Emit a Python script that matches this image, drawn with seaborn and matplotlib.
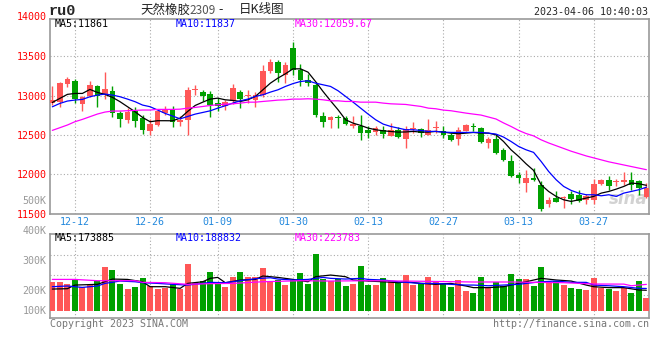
import matplotlib
matplotlib.use("Agg")
import matplotlib.pyplot as plt
import numpy as np
import seaborn as sns

# ru0 daily candles, 12-07 .. 04-06
opens = [12912, 12925, 13149, 13187, 12895, 13001, 13124, 13018, 13060, 12785,
         12691, 12806, 12713, 12552, 12628, 12776, 12825, 12665, 12695, 13072,
         13047, 13025, 12903, 12872, 12937, 13050, 12995, 12948, 13011, 13316,
         13428, 13266, 13610, 13330, 13206, 13138, 12744, 12698, 12728, 12715,
         12617, 12617, 12566, 12545, 12566, 12494, 12566, 12448, 12572, 12575,
         12503, 12585, 12555, 12505, 12444, 12557, 12618, 12588, 12395, 12452,
         12312, 12172, 11994, 11888, 11955, 11867, 11620, 11704, 11700, 11752,
         11740, 11676, 11676, 11880, 11930, 11908, 11903, 11930, 11920, 11718]
highs = [13128, 13179, 13238, 13213, 12997, 13192, 13137, 13302, 13124, 12806,
         12840, 12853, 12755, 12708, 12819, 12870, 12876, 12737, 13106, 13131,
         13076, 13064, 12970, 12951, 13153, 13068, 13068, 13050, 13390, 13466,
         13460, 13430, 13685, 13403, 13280, 13170, 12788, 12740, 12750, 12746,
         12744, 12756, 12620, 12612, 12612, 12655, 12598, 12616, 12665, 12587,
         12701, 12680, 12619, 12527, 12600, 12640, 12650, 12600, 12480, 12502,
         12342, 12245, 12035, 12055, 12078, 11918, 11708, 11795, 11722, 11795,
         11805, 11750, 11942, 11945, 11980, 11945, 12035, 12025, 11932, 11888]
lows = [12882, 12861, 13115, 12912, 12810, 12988, 12861, 12958, 12734, 12602,
        12657, 12598, 12513, 12501, 12615, 12751, 12608, 12610, 12504, 13013,
        12928, 12729, 12801, 12825, 12890, 12850, 12911, 12862, 12990, 13295,
        13181, 13168, 13265, 13120, 13128, 12730, 12598, 12587, 12595, 12625,
        12593, 12437, 12458, 12500, 12468, 12490, 12458, 12341, 12524, 12481,
        12500, 12523, 12462, 12420, 12380, 12555, 12558, 12398, 12340, 12262,
        12172, 11972, 11890, 11782, 11918, 11540, 11585, 11643, 11572, 11622,
        11655, 11620, 11627, 11868, 11805, 11856, 11868, 11800, 11741, 11700]
closes = [12946, 13166, 13213, 12958, 12988, 13137, 13001, 13086, 12776, 12708,
          12797, 12679, 12564, 12641, 12806, 12827, 12672, 12695, 13076, 13080,
          13000, 12886, 12874, 12922, 13100, 12962, 13002, 13011, 13316, 13432,
          13295, 13393, 13330, 13206, 13163, 12756, 12672, 12732, 12718, 12646,
          12646, 12532, 12532, 12587, 12515, 12566, 12481, 12575, 12577, 12524,
          12566, 12588, 12496, 12438, 12566, 12630, 12603, 12418, 12452, 12278,
          12185, 11983, 11960, 11960, 11935, 11565, 11676, 11655, 11718, 11688,
          11665, 11722, 11880, 11932, 11855, 11912, 11932, 11868, 11826, 11822]
volumes = [243800, 243800, 226700, 260700, 198300, 215300, 249300, 371200, 345700, 226700,
           184200, 201200, 277700, 206800, 184200, 195500, 229500, 187000, 396700, 238000,
           249300, 328700, 243700, 201200, 286200, 328700, 286200, 283300, 362700, 252200,
           260700, 218200, 260700, 320200, 226700, 481700, 269200, 255000, 266300, 209700,
           226700, 379700, 218200, 218200, 277700, 252200, 238000, 303200, 218200, 232300,
           286200, 240800, 232300, 201200, 257800, 167200, 150200, 286200, 195500, 240800,
           206800, 311700, 269200, 269200, 209700, 371200, 246500, 252200, 218200, 192700,
           184200, 175700, 277700, 195500, 187000, 167200, 189800, 150200, 252200, 110500]

# moving averages as drawn on the chart
ma5 = [12915, 12967, 13018, 13030, 13030, 13081, 13043, 13018, 12980, 12925,
       12861, 12797, 12725, 12670, 12683, 12683, 12682, 12716, 12801, 12877,
       12919, 12958, 12970, 12949, 12941, 12928, 12949, 12992, 13076, 13161,
       13225, 13280, 13343, 13343, 13301, 13182, 13055, 12936, 12822, 12695,
       12652, 12623, 12589, 12568, 12555, 12546, 12538, 12540, 12547, 12538,
       12538, 12547, 12538, 12525, 12517, 12525, 12534, 12525, 12525, 12504,
       12419, 12313, 12229, 12135, 12051, 11868, 11783, 11720, 11677, 11656,
       11677, 11699, 11720, 11762, 11783, 11813, 11847, 11890, 11881, 11861]
ma10 = [12860, 12903, 12933, 12946, 12954, 12988, 13009, 13022, 13009, 12988,
        12958, 12925, 12882, 12861, 12819, 12776, 12742, 12707, 12737, 12767,
        12788, 12809, 12843, 12873, 12907, 12936, 12958, 12992, 13013, 13047,
        13076, 13119, 13155, 13182, 13191, 13161, 13140, 13119, 13064, 12992,
        12919, 12843, 12767, 12695, 12640, 12610, 12589, 12568, 12568, 12559,
        12547, 12547, 12538, 12534, 12534, 12534, 12534, 12534, 12525, 12513,
        12475, 12419, 12356, 12313, 12280, 12165, 12038, 11932, 11847, 11796,
        11762, 11741, 11741, 11728, 11741, 11720, 11762, 11783, 11805, 11837]
ma30 = [12560, 12594, 12628, 12670, 12700, 12734, 12768, 12793, 12806, 12806,
        12810, 12814, 12819, 12819, 12827, 12827, 12827, 12830, 12843, 12852,
        12864, 12877, 12886, 12894, 12898, 12907, 12919, 12919, 12928, 12936,
        12945, 12949, 12958, 12958, 12962, 12958, 12949, 12936, 12936, 12928,
        12928, 12919, 12919, 12919, 12907, 12898, 12894, 12890, 12877, 12865,
        12843, 12835, 12818, 12810, 12795, 12780, 12767, 12755, 12730, 12705,
        12655, 12610, 12560, 12520, 12490, 12440, 12400, 12365, 12330, 12295,
        12265, 12235, 12210, 12185, 12160, 12140, 12120, 12100, 12080, 12060]

vol_ma5_idx = [0, 2, 3, 6, 8, 10, 12, 13, 15, 17, 18, 20, 21, 22, 23, 25, 27, 28, 30, 32,
               34, 35, 37, 39, 40, 42, 44, 46, 47, 49, 51, 53, 55, 56, 58, 60, 62, 63, 65, 67,
               69, 71, 72, 74, 76, 78, 79]
vol_ma5 = [184000, 187000, 218000, 224000, 269000, 266000, 246000, 204000, 204000, 190000,
           232000, 246000, 275000, 283000, 238000, 260000, 266000, 295000, 283000, 266000,
           246000, 289000, 303000, 289000, 261000, 252000, 246000, 238000, 246000, 232000,
           224000, 232000, 210000, 196000, 196000, 204000, 232000, 246000, 275000, 261000,
           252000, 218000, 204000, 196000, 196000, 176000, 173885]
vol_ma10_idx = [0, 2, 4, 6, 7, 9, 11, 12, 14, 16, 18, 20, 21, 23, 25, 27, 29, 30, 32, 34,
                36, 37, 39, 41, 42, 44, 46, 47, 49, 51, 53, 55, 56, 58, 60, 62, 63, 65, 67, 69,
                71, 72, 74, 76, 78, 79]
vol_ma10 = [204000, 210000, 198000, 210000, 232000, 252000, 246000, 238000, 232000, 224000,
            218000, 232000, 241000, 238000, 255000, 272000, 280000, 269000, 261000, 266000,
            283000, 275000, 269000, 275000, 266000, 261000, 246000, 241000, 232000, 232000,
            224000, 218000, 218000, 212000, 218000, 224000, 232000, 246000, 252000, 241000,
            241000, 218000, 212000, 204000, 190000, 188832]
vol_ma30_idx = [0, 3, 6, 11, 12, 15, 18, 21, 24, 28, 33, 37, 42, 47, 56, 61, 64, 68, 72, 76, 77, 79]
vol_ma30 = [266000, 266000, 255000, 255000, 241000, 238000, 224000, 230000, 232000, 246000,
            255000, 252000, 255000, 252000, 244000, 244000, 241000, 238000, 227000, 226000,
            212000, 223783]

date_ticks = [3, 13, 22, 32, 42, 52, 62, 72]
date_labels = ["12-12", "12-26", "01-09", "01-30", "02-13", "02-27", "03-13", "03-27"]
price_ticks = [11500, 12000, 12500, 13000, 13500]
vol_labels = ["500K", "400K", "300K", "200K", "100K"]
vol_label_pos = [1.396, 1.039, 0.686, 0.329, 0.090]

title_parts = ["天然橡胶", "2309", "-", "日K线图"]
symbol = "ru0"
stamp = "2023-04-06 10:40:03"
price_head = ["MA5:11861", "MA10:11837", "MA30:12059.67"]
vol_head = ["MA5:173885", "MA10:188832", "MA30:223783"]

RED = "#ff5757"
GREEN = "#00a000"
GRID = "#aaaaaa"
BORDER = "#999999"
DATE_BLUE = "#2288dd"
MA_COLORS = ["black", "#0000ff", "#ff00ff"]

sns.set_style("white")
plt.rcParams["font.family"] = ["DejaVu Sans Mono"]

fig = plt.figure(figsize=(6.6, 3.6), dpi=100)
ax = fig.add_axes([50 / 660, 1 - 213.7 / 360, 599 / 660, 194.7 / 360])
axv = fig.add_axes([50 / 660, 1 - 318.3 / 360, 599 / 660, 84 / 360])

o = np.array(opens)
c = np.array(closes)
idx = np.arange(len(closes))
colors = [RED if cl >= op else GREEN for op, cl in zip(opens, closes)]

# candles
ax.vlines(idx, lows, highs, colors=colors, linewidth=1, zorder=2)
ax.bar(idx, np.maximum(np.abs(c - o), 12), bottom=np.minimum(o, c), width=0.75,
       color=colors, linewidth=0, zorder=3)
for vals, col in zip([ma5, ma10, ma30], MA_COLORS):
    sns.lineplot(x=idx, y=vals, ax=ax, color=col, linewidth=0.9, legend=False, zorder=4)

ax.set_xlim(-0.31, 79.35)
ax.set_ylim(11500, 13977)
ax.set_yticks(price_ticks)
ax.set_xticks(date_ticks)
ax.set_xticklabels(date_labels)
ax.grid(True, color=GRID, linestyle=(0, (1, 2)), linewidth=0.8)
ax.set_axisbelow(True)
ax.tick_params(axis="both", length=0, pad=2)
ax.tick_params(axis="y", labelcolor="red", labelsize=7.2)
ax.tick_params(axis="x", labelcolor=DATE_BLUE, labelsize=7.2, pad=2.5)
ax.text(-0.006, 14000, "14000", transform=ax.get_yaxis_transform(), ha="right",
        va="center", color="red", fontsize=7.2, clip_on=False)
for txt, xf, col in zip(price_head, [0.008, 0.209, 0.409], MA_COLORS):
    ax.text(xf, 0.976, txt, transform=ax.transAxes, va="center", color=col, fontsize=7.2)
ax.text(0.998, 0.03, "sina", transform=ax.transAxes, ha="right", va="bottom",
        color="#d2d2d2", fontsize=12, fontstyle="italic", fontweight="bold",
        family=["DejaVu Sans"], zorder=1)

# volume
axv.bar(idx, volumes, width=0.8, color=colors, linewidth=0, zorder=3)
for xs, vals, col in zip([vol_ma5_idx, vol_ma10_idx, vol_ma30_idx],
                         [vol_ma5, vol_ma10, vol_ma30], MA_COLORS):
    sns.lineplot(x=xs, y=vals, ax=axv, color=col, linewidth=0.9, legend=False, zorder=4)
axv.set_xlim(-0.31, 79.35)
axv.set_ylim(-64600, 649400)
axv.set_xticks(date_ticks)
axv.set_xticklabels([])
axv.set_yticks([130900, 300900, 470900])
axv.set_yticklabels([])
axv.grid(True, color=GRID, linestyle=(0, (1, 2)), linewidth=0.8)
axv.set_axisbelow(True)
axv.tick_params(axis="both", length=0)
for lbl, yf in zip(vol_labels, vol_label_pos):
    axv.text(-0.006, yf, lbl, transform=axv.transAxes, ha="right", va="center",
             color="#999999", fontsize=7.2, clip_on=False)
for txt, xf, col in zip(vol_head, [0.008, 0.209, 0.409], MA_COLORS):
    axv.text(xf, 0.952, txt, transform=axv.transAxes, va="center", color=col, fontsize=7.2)

for a in (ax, axv):
    for s in a.spines.values():
        s.set_color(BORDER)
        s.set_linewidth(1.2)

# header and footer
fig.text(49 / 660, 1 - 11 / 360, symbol, ha="left", va="center", fontsize=11,
         fontweight="bold", family=["Liberation Mono", "DejaVu Sans Mono"])
cjk = ["Noto Sans CJK SC", "DejaVu Sans"]
fig.text(140 / 660, 1 - 10 / 360, title_parts[0], ha="left", va="center", fontsize=9,
         color="#222222", family=cjk)
fig.text(189 / 660, 1 - 10 / 360, title_parts[1], ha="left", va="center", fontsize=8.5,
         color="#555555", family=cjk)
fig.text(221 / 660, 1 - 10 / 360, title_parts[2], ha="center", va="center", fontsize=9,
         color="#222222", family=cjk)
fig.text(239 / 660, 1 - 10 / 360, title_parts[3], ha="left", va="center", fontsize=9,
         color="#222222", family=cjk)
fig.text(648 / 660, 1 - 12 / 360, stamp, ha="right", va="center", fontsize=7.2)
fig.text(50 / 660, 1 - 324 / 360, "Copyright 2023 SINA.COM", ha="left", va="center",
         fontsize=7.2, color="#777777")
fig.text(649 / 660, 1 - 324 / 360, "http://finance.sina.com.cn", ha="right", va="center",
         fontsize=7.2, color="#777777")

plt.savefig("out.png", dpi=100)
